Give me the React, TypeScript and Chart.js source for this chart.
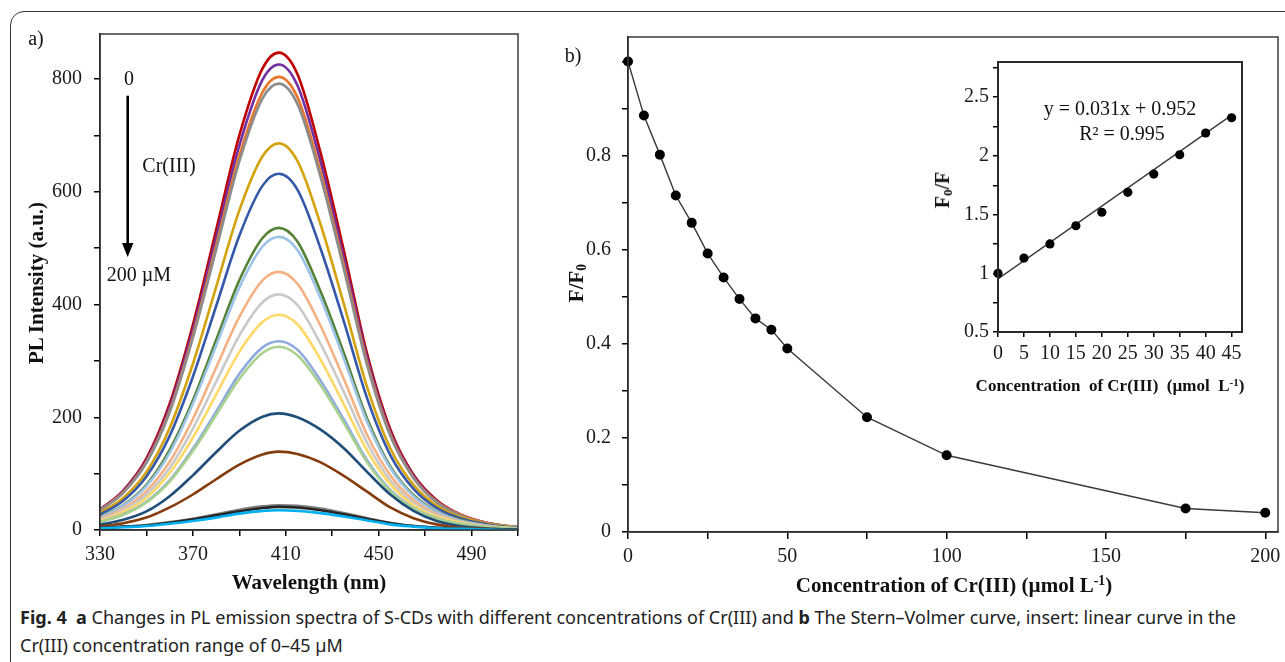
import React, { useEffect, useRef } from "react";
import { Chart, registerables } from "chart.js";

Chart.register(...registerables);

const SERIF = "'Liberation Serif', 'Times New Roman', serif";
const SANS = "'Noto Sans', 'Open Sans', sans-serif";

// ---------- Panel a: PL spectra ----------
const wavelengths = [330, 340, 350, 360, 370, 380, 390, 400, 407, 415, 425, 435, 445, 455, 465, 475, 485, 495, 505, 510];
const specRed = [36, 70, 127, 224, 364, 532, 700, 819, 847, 809, 669, 496, 313, 179, 98, 53, 28, 14, 7, 5];
const specPurple = [36, 69, 124, 218, 355, 519, 682, 799, 826, 789, 653, 483, 306, 174, 96, 51, 27, 14, 7, 5];
const specOrange = [35, 67, 121, 212, 346, 505, 664, 777, 804, 768, 635, 470, 298, 170, 93, 50, 27, 14, 7, 5];
const specGray = [34, 66, 119, 209, 341, 497, 654, 766, 792, 756, 626, 463, 293, 167, 92, 49, 26, 13, 7, 5];
const specGold = [30, 57, 103, 181, 295, 431, 567, 663, 686, 655, 542, 401, 254, 145, 80, 43, 23, 12, 6, 4];
const specBlue = [27, 52, 95, 167, 272, 397, 522, 611, 632, 604, 499, 370, 234, 133, 73, 39, 21, 11, 5, 4];
const specGreen = [23, 44, 80, 142, 230, 337, 443, 518, 536, 512, 423, 314, 198, 113, 62, 33, 18, 9, 5, 3];
const specLightBlue = [22, 43, 78, 137, 224, 327, 430, 503, 520, 497, 411, 304, 192, 110, 60, 32, 17, 9, 4, 3];
const specSalmon = [20, 38, 69, 121, 197, 288, 378, 443, 458, 437, 362, 268, 169, 97, 53, 28, 15, 8, 4, 3];
const specLightGray = [18, 35, 63, 110, 180, 263, 345, 404, 418, 399, 330, 245, 155, 88, 48, 26, 14, 7, 4, 3];
const specYellow = [16, 32, 57, 101, 164, 240, 316, 369, 382, 365, 302, 223, 141, 81, 44, 24, 13, 6, 3, 2];
const specPeriwinkle = [14, 28, 50, 88, 144, 210, 277, 324, 335, 320, 265, 196, 124, 71, 39, 21, 11, 6, 3, 2];
const specLightGreen = [14, 27, 49, 86, 140, 204, 268, 314, 325, 310, 257, 190, 120, 69, 38, 20, 11, 6, 3, 2];
const specNavy = [9, 18, 33, 60, 97, 138, 176, 201, 207, 200, 178, 145, 103, 63, 34, 16, 7, 3, 1, 1];
const specBrown = [6, 12, 22, 40, 63, 90, 116, 134, 139, 135, 120, 96, 68, 40, 21, 10, 4, 2, 1, 0];
const specDarkGray = [4, 6, 9, 14, 20, 28, 36, 42, 44, 43, 38, 30, 21, 13, 7, 4, 2, 1, 1, 1];
const specBlack = [4, 6, 8, 13, 19, 26, 33, 39, 41, 40, 35, 28, 20, 12, 7, 4, 2, 1, 1, 1];
const specCyan = [3, 5, 7, 11, 16, 22, 29, 34, 35, 34, 30, 24, 17, 10, 6, 3, 2, 1, 0, 0];

const spectra = [
  specRed, specPurple, specOrange, specGray, specGold, specBlue, specGreen, specLightBlue,
  specSalmon, specLightGray, specYellow, specPeriwinkle, specLightGreen, specNavy, specBrown,
  specDarkGray, specBlack, specCyan,
];
const spectraColors = [
  "#C00000", "#7030A0", "#E8762C", "#8C8C8C", "#D4A20C", "#3558A8", "#548235", "#9DC3E6",
  "#F4B183", "#C9C9C9", "#FFD966", "#8FAADC", "#A9D18E", "#1F4E79", "#843C0C",
  "#7F7F7F", "#262626", "#00B0F0",
];
const wavelengthLabels = [330, 370, 410, 450, 490];
const intensityLabels = [0, 200, 400, 600, 800];

// ---------- Panel b: Stern-Volmer ----------
const concentrations = [0, 5, 10, 15, 20, 25, 30, 35, 40, 45, 50, 75, 100, 175, 200];
const fOverF0 = [1.0, 0.885, 0.802, 0.715, 0.657, 0.592, 0.541, 0.495, 0.454, 0.43, 0.39, 0.244, 0.163, 0.05, 0.041];
const concLabels = [0, 50, 100, 150, 200];
const ratioLabels = [0, 0.2, 0.4, 0.6, 0.8];

// ---------- Inset ----------
const insetConc = [0, 5, 10, 15, 20, 25, 30, 35, 40, 45];
const f0OverF = [1.0, 1.13, 1.25, 1.405, 1.52, 1.69, 1.845, 2.01, 2.195, 2.325];
const trendX = [0, 45];
const trendY = [0.952, 2.347];
const insetYLabels = [0.5, 1, 1.5, 2, 2.5];

const boxPlugin = (color: string, width: number) => ({
  id: "plotBox",
  afterDraw(chart: any) {
    const { ctx, chartArea } = chart;
    ctx.save();
    ctx.strokeStyle = color;
    ctx.lineWidth = width;
    ctx.strokeRect(chartArea.left, chartArea.top, chartArea.right - chartArea.left, chartArea.bottom - chartArea.top);
    ctx.restore();
  },
});

function axisX(opts: any) {
  return {
    type: "linear",
    min: opts.min,
    max: opts.max,
    afterFit: (s: any) => {
      s.height = opts.height;
      s.paddingLeft = 0;
      s.paddingRight = 0;
    },
    border: { display: true, color: "#000", width: 1.5 },
    grid: { drawOnChartArea: false, drawTicks: true, tickLength: opts.tl, color: "#000", lineWidth: 1.5 },
    ticks: {
      stepSize: opts.step,
      includeBounds: false,
      autoSkip: false,
      maxRotation: 0,
      padding: opts.pad,
      color: "#1a1a1a",
      font: { family: SERIF, size: opts.font },
      callback: opts.cb,
    },
  };
}
function axisY(opts: any) {
  return {
    type: "linear",
    min: opts.min,
    max: opts.max,
    afterFit: (s: any) => {
      s.width = opts.width;
      s.paddingTop = 0;
      s.paddingBottom = 0;
    },
    border: { display: true, color: "#000", width: 1.5 },
    grid: { drawOnChartArea: false, drawTicks: true, tickLength: opts.tl, color: "#000", lineWidth: 1.5 },
    ticks: {
      stepSize: opts.step,
      includeBounds: false,
      autoSkip: false,
      padding: opts.pad,
      color: "#1a1a1a",
      font: { family: SERIF, size: opts.font },
      callback: opts.cb,
    },
  };
}

function ChartCanvas({ config, left, top, width, height }: any) {
  const ref = useRef<HTMLCanvasElement | null>(null);
  useEffect(() => {
    if (!ref.current) return;
    const chart = new Chart(ref.current, config());
    return () => chart.destroy();
  }, []);
  return (
    <canvas
      ref={ref}
      width={width}
      height={height}
      style={{ position: "absolute", left, top, width, height }}
    />
  );
}

const configA = () => ({
  type: "line",
  data: {
    datasets: spectra
      .map((s, i) => ({
        data: s.map((y, j) => ({ x: wavelengths[j], y })),
        borderColor: spectraColors[i],
        borderWidth: 2.6,
        pointRadius: 0,
        fill: false,
        cubicInterpolationMode: "monotone",
      }))
      .reverse(),
  },
  options: {
    responsive: false,
    animation: false,
    layout: { padding: { top: 34, right: 22, left: 0, bottom: 0 } },
    plugins: { legend: { display: false }, tooltip: { enabled: false } },
    scales: {
      x: axisX({
        min: 330, max: 510, height: 70, tl: 6, step: 20, pad: 7, font: 20,
        cb: (v: number) => (wavelengthLabels.includes(v) ? String(v) : ""),
      }),
      y: axisY({
        min: 0, max: 880, width: 100, tl: 6, step: 100, pad: 12, font: 20,
        cb: (v: number) => (intensityLabels.includes(v) ? String(v) : ""),
      }),
    },
  },
  plugins: [boxPlugin("#3a3a3a", 1.5)],
});

const configB = () => ({
  type: "line",
  data: {
    datasets: [
      {
        data: concentrations.map((x, i) => ({ x, y: fOverF0[i] })),
        borderColor: "#3a3a3a",
        borderWidth: 1.4,
        pointRadius: 5,
        pointBackgroundColor: "#000",
        pointBorderColor: "#000",
        pointBorderWidth: 0,
        tension: 0,
        clip: false,
      },
    ],
  },
  options: {
    responsive: false,
    animation: false,
    layout: { padding: { top: 37, right: 7, left: 0, bottom: 0 } },
    plugins: { legend: { display: false }, tooltip: { enabled: false } },
    scales: {
      x: axisX({
        min: 0, max: 204, height: 68, tl: 7, step: 25, pad: 6, font: 20,
        cb: (v: number) => (concLabels.includes(v) ? String(v) : ""),
      }),
      y: axisY({
        min: 0, max: 1.052, width: 88, tl: 6, step: 0.1, pad: 11, font: 20,
        cb: (v: number) => {
          const r = Math.round(v * 10) / 10;
          return ratioLabels.includes(r) ? String(r) : "";
        },
      }),
    },
  },
  plugins: [boxPlugin("#3a3a3a", 1.5)],
});

const configInset = () => ({
  type: "line",
  data: {
    datasets: [
      {
        data: insetConc.map((x, i) => ({ x, y: f0OverF[i] })),
        showLine: false,
        pointRadius: 4.6,
        pointBackgroundColor: "#000",
        pointBorderWidth: 0,
        clip: false,
      },
      {
        data: trendX.map((x, i) => ({ x, y: trendY[i] })),
        borderColor: "#3a3a3a",
        borderWidth: 1.4,
        pointRadius: 0,
        tension: 0,
      },
    ],
  },
  options: {
    responsive: false,
    animation: false,
    layout: { padding: { top: 22, right: 18, left: 0, bottom: 0 } },
    plugins: { legend: { display: false }, tooltip: { enabled: false } },
    scales: {
      x: axisX({
        min: 0, max: 47, height: 48, tl: 5, step: 5, pad: 5, font: 20,
        cb: (v: number) => String(v),
      }),
      y: axisY({
        min: 0.5, max: 2.8, width: 98, tl: 5, step: 0.25, pad: 4, font: 20,
        cb: (v: number) => {
          const r = Math.round(v * 100) / 100;
          return insetYLabels.includes(r) ? String(r) : "";
        },
      }),
    },
  },
  plugins: [boxPlugin("#2a2a2a", 2)],
});

function Txt({ x, y, size = 20, bold = false, rotate = false, children, family = SERIF, color = "#111" }: any) {
  return (
    <div
      style={{
        position: "absolute",
        left: x,
        top: y,
        transform: `translate(-50%, -50%)${rotate ? " rotate(-90deg)" : ""}`,
        whiteSpace: "nowrap",
        fontFamily: family,
        fontSize: size,
        fontWeight: bold ? 700 : 400,
        lineHeight: 1,
        color,
      }}
    >
      {children}
    </div>
  );
}

const sub = { fontSize: "0.65em", verticalAlign: "-0.25em", lineHeight: 0 } as any;
const sup = { fontSize: "0.65em", verticalAlign: "0.45em", lineHeight: 0 } as any;

export default function App() {
  return (
    <div
      style={{
        position: "absolute",
        left: 0,
        top: 0,
        width: 1285,
        height: 662,
        overflow: "hidden",
        background: "#fff",
      }}
    >
      <div
        style={{
          position: "absolute",
          left: 10,
          top: 11,
          width: 1320,
          height: 700,
          border: "1.2px solid #333",
          borderRadius: 14,
          boxSizing: "border-box",
        }}
      />
      <ChartCanvas config={configA} left={0} top={0} width={540} height={600} />
      <ChartCanvas config={configB} left={540} top={0} width={745} height={600} />
      <ChartCanvas config={configInset} left={900} top={40} width={360} height={340} />

      {/* panel a labels */}
      <Txt x={36} y={38}>a)</Txt>
      <Txt x={36} y={283} size={21} bold rotate>PL Intensity (a.u.)</Txt>
      <Txt x={309} y={582} size={21} bold>Wavelength (nm)</Txt>
      <Txt x={129} y={78}>0</Txt>
      <Txt x={169} y={165}>Cr(III)</Txt>
      <Txt x={139} y={274}>200 µM</Txt>
      <svg style={{ position: "absolute", left: 0, top: 0 }} width={300} height={300}>
        <line x1={127.7} y1={95.7} x2={127.7} y2={246} stroke="#000" strokeWidth={2.6} />
        <polygon points="122,243 133.4,243 127.7,257" fill="#000" />
      </svg>

      {/* panel b labels */}
      <Txt x={573} y={55}>b)</Txt>
      <Txt x={576} y={283} size={21} bold rotate>
        F/F<span style={sub}>0</span>
      </Txt>
      <Txt x={954} y={585} size={21} bold>
        Concentration of Cr(III) (µmol L<span style={sup}>-1</span>)
      </Txt>

      {/* inset labels */}
      <Txt x={1120} y={108} size={20}>y = 0.031x + 0.952</Txt>
      <Txt x={1122} y={133} size={20}>R² = 0.995</Txt>
      <Txt x={942} y={190} size={20} bold rotate>
        F<span style={sub}>0</span>/F
      </Txt>
      <Txt x={1110} y={385} size={17} bold>
        Concentration&nbsp;&nbsp;of Cr(III)&nbsp;&nbsp;(µmol&nbsp;&nbsp;L<span style={sup}>-1</span>)
      </Txt>

      {/* caption */}
      <div
        style={{
          position: "absolute",
          left: 20,
          top: 603,
          width: 1260,
          fontFamily: SANS,
          fontSize: 18,
          lineHeight: "28px",
          color: "#222",
          whiteSpace: "nowrap",
        }}
      >
        <b>Fig. 4</b>&nbsp; <b>a</b> Changes in PL emission spectra of S-CDs with different concentrations of Cr(III) and{" "}
        <b>b</b> The Stern–Volmer curve, insert: linear curve in the
        <br />
        Cr(III) concentration range of 0–45 µM
      </div>
    </div>
  );
}
